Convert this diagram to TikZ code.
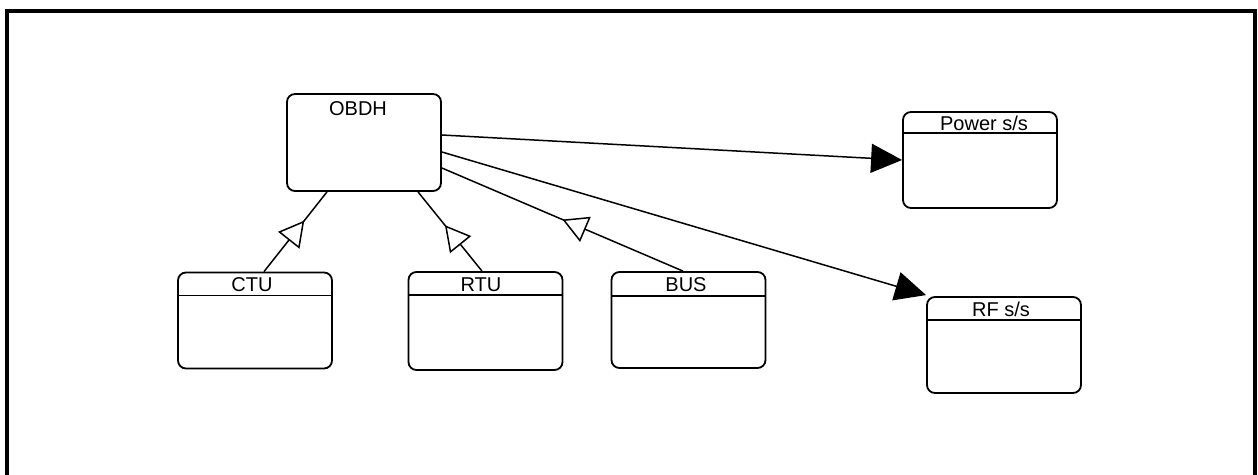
\documentclass[tikz,border=0pt]{standalone}
\usepackage{fontspec}
\setmainfont{Liberation Sans}
\usetikzlibrary{arrows.meta,calc,decorations.markings}
\begin{document}
\begin{tikzpicture}[x=0.5pt,y=-0.5pt,
  box/.style={draw, line width=0.9pt, rounded corners=4pt, minimum width=77pt, minimum height=48pt, inner sep=0pt},
  title/.style={anchor=base, font=\fontsize{10}{12}\selectfont, inner sep=0pt},
  divider/.style={line width=0.8pt},
  frame/.style={line width=1.6pt},
  assoc/.style={line width=0.75pt, -{Triangle[length=15.5pt, width=14.5pt]}},
  gen/.style={line width=0.75pt, postaction={decorate},
    decoration={markings, mark=at position #1 with {\arrow{Triangle[length=12.5pt,width=13.5pt,fill=white]}}}}
]
\useasboundingbox (0,0) rectangle (1258,475);
\draw[frame] (7,475) -- (7,11) -- (1255,11) -- (1255,475);

% boxes
\node[box, minimum height=48.5pt] (obdh) at (364,142.5) {};
\node[box] (ctu) at (255,320.5) {};
\node[box, minimum height=49pt] (rtu) at (485.5,321) {};
\node[box] (bus) at (688.5,320) {};
\node[box] (power) at (980,160) {};
\node[box] (rf) at (1004,345) {};

% titles
\node[title] (tobdh) at ($(obdh.north)+(-6,22)$) {OBDH};
\node[title] (tctu) at ($(ctu.north)+(-3,20)$) {CTU};
\node[title] (trtu) at ($(rtu.north)+(-4.5,20)$) {RTU};
\node[title] (tbus) at ($(bus.north)+(-2.5,20)$) {BUS};
\node[title] (tpower) at ($(power.north)+(4,19)$) {Power s/s};
\node[title] (trf) at ($(rf.north)+(-3,20)$) {RF s/s};

% dividers
\draw[divider] ($(ctu.north west)+(0,24)$) -- ($(ctu.north east)+(0,24)$);
\draw[divider] ($(rtu.north west)+(0,24)$) -- ($(rtu.north east)+(0,24)$);
\draw[divider] ($(bus.north west)+(0,25)$) -- ($(bus.north east)+(0,25)$);
\draw[divider] ($(power.north west)+(0,22)$) -- ($(power.north east)+(0,22)$);
\draw[divider] ($(rf.north west)+(0,24)$) -- ($(rf.north east)+(0,24)$);

% associations
\draw[assoc] ($(obdh.east)+(0,-7.5)$) -- (power.west);
\draw[assoc] ($(obdh.east)+(0,9.5)$) -- ($(rf.north west)+(0,-1)$);

% generalizations
\draw[gen=0.64] ($(ctu.north)+(9,0)$) -- ($(obdh.south)+(-37,0)$);
\draw[gen=0.58] ($(rtu.north)+(-3.5,0)$) -- ($(obdh.south)+(54,0)$);
\draw[gen=0.5] ($(bus.north)+(-5.5,0)$) -- ($(obdh.east)+(0,25.5)$);
\end{tikzpicture}
\end{document}
